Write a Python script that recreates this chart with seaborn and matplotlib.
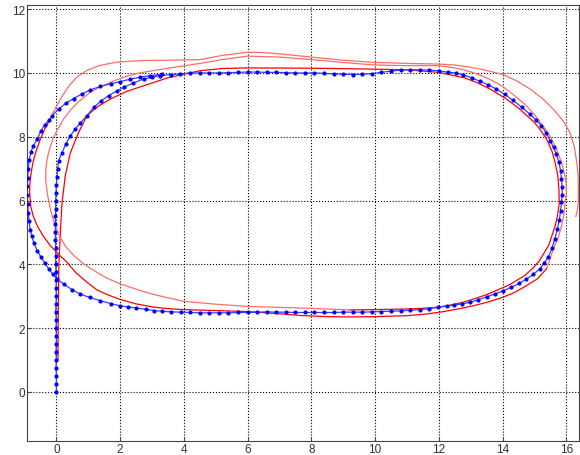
import matplotlib
matplotlib.use('Agg')
import matplotlib.pyplot as plt
import seaborn as sns

# reference path (blue dots)
path_x = [0.0, 0.0, 0.0, -0.01, 0.0, -0.01, 0.0, 0.0, -0.01, 0.0, -0.02, -0.01, 0.0, -0.01, 0.0, -0.01,
          -0.02, -0.02, -0.02, -0.03, -0.03, -0.03, -0.03, -0.02, -0.02, -0.01, 0.0, 0.02, 0.04,
          0.07, 0.18, 0.3, 0.44, 0.6, 0.75, 0.96, 1.17, 1.4, 1.64, 1.9, 2.11, 2.4, 2.74, 3.0, 3.26,
          3.6, 3.89, 4.2, 4.5,
          4.8, 5.1, 5.4, 5.7, 6.0, 6.3, 6.6, 6.9, 7.2, 7.5, 7.8, 8.1, 8.4, 8.7, 9.0, 9.3, 9.6, 9.9,
          10.2, 10.5, 10.8, 11.1, 11.4, 11.7, 12.0,
          12.3, 12.55, 12.77, 13.03, 13.29, 13.55, 13.8, 14.07, 14.33, 14.6, 14.86, 15.05, 15.22,
          15.37, 15.49, 15.6, 15.69, 15.77, 15.82, 15.85, 15.87, 15.87, 15.85, 15.82, 15.78, 15.72,
          15.64, 15.55, 15.43, 15.3, 15.17, 14.97, 14.75, 14.52, 14.28, 14.02, 13.76, 13.5, 13.24,
          12.98, 12.72, 12.48, 12.25, 11.97, 11.69, 11.41, 11.1, 10.8, 10.5, 10.2, 9.9,
          9.6, 9.3, 9.0, 8.7, 8.4, 8.1, 7.8, 7.5, 7.2, 6.9, 6.6, 6.3, 6.0, 5.7, 5.4, 5.1, 4.8, 4.5,
          4.2, 3.9, 3.6, 3.3, 3.05, 2.8, 2.5, 2.25, 2.0, 1.7, 1.38, 1.05, 0.75, 0.5, 0.25, 0.02,
          -0.12, -0.24, -0.36, -0.48, -0.6, -0.7, -0.77, -0.82, -0.86, -0.88, -0.9, -0.91, -0.91,
          -0.9, -0.88, -0.85, -0.8, -0.72, -0.6, -0.48, -0.36, -0.24, -0.13, 0.07, 0.3, 0.54, 0.8,
          1.07, 1.38, 1.7, 2.0, 2.3, 2.63, 2.95, 3.3]
path_y = [0.0, 0.25, 0.5, 0.75, 1.0, 1.25, 1.5, 1.75, 2.0, 2.25, 2.5, 2.75, 3.0, 3.25, 3.5, 3.75,
          4.0, 4.25, 4.5, 4.75, 5.0, 5.25, 5.5, 5.75, 6.0, 6.25, 6.5, 6.75, 7.0,
          7.25, 7.5, 7.78, 8.03, 8.25, 8.43, 8.66, 8.92, 9.12, 9.29, 9.44, 9.55, 9.68, 9.81, 9.87, 9.92,
          9.95, 9.97, 10.0, 10.0,
          10.0, 10.0, 10.01, 10.02, 10.03, 10.03, 10.02, 10.02, 10.01, 10.0, 10.0, 10.0, 9.99, 9.97,
          9.96, 9.95, 9.96, 9.98, 10.02, 10.06, 10.09, 10.1, 10.1, 10.09, 10.07,
          10.02, 10.0, 9.94, 9.85, 9.74, 9.63, 9.5, 9.33, 9.14, 8.93, 8.71, 8.53, 8.35,
          8.12, 7.88, 7.67, 7.46, 7.2, 6.94, 6.68, 6.42, 6.18, 5.95, 5.66, 5.38, 5.1,
          4.8, 4.5, 4.22, 4.03, 3.86, 3.69, 3.54, 3.4, 3.28, 3.17, 3.07, 2.98, 2.89,
          2.81, 2.76, 2.72, 2.69, 2.65, 2.61, 2.58, 2.56, 2.54, 2.53, 2.52, 2.51,
          2.5, 2.5, 2.5, 2.49, 2.49, 2.49, 2.49, 2.49, 2.5, 2.5, 2.51, 2.5, 2.49, 2.49, 2.48, 2.48, 2.48, 2.48,
          2.49, 2.5, 2.51, 2.53, 2.55, 2.59, 2.63, 2.66, 2.7, 2.77, 2.86, 2.96, 3.07, 3.2, 3.37, 3.54,
          3.7, 3.86, 4.03, 4.22, 4.43, 4.66, 4.88, 5.09, 5.35, 5.62, 5.9, 6.18, 6.45,
          6.72, 7.0, 7.28, 7.52, 7.72, 7.93, 8.19, 8.38, 8.52, 8.66, 8.87, 9.05, 9.2, 9.34,
          9.47, 9.58, 9.66, 9.73, 9.8, 9.87, 9.92, 9.96]

# estimated trajectory (red), split into passes
est1_x = [0.05, 0.06, 0.08, 0.13, 0.18, 0.28, 0.44, 0.7, 0.96, 1.3, 1.69, 2.2, 2.74, 3.5, 4.5, 5.2,
          6.0, 8.0, 10.0, 11.0, 12.0, 12.8, 13.2, 13.6, 14.1, 14.5, 15.0, 15.2, 15.38, 15.55, 15.65,
          15.73, 15.77, 15.78, 15.72, 15.65, 15.55, 15.45, 15.3, 15.15, 14.95, 14.7, 14.45, 14.2,
          13.85, 13.5, 13.15, 12.8, 12.4, 12.0, 11.5, 11.0, 10.0, 9.2]
est1_y = [1.0, 2.5, 4.0, 5.1, 5.94, 6.78, 7.5, 8.14, 8.66, 8.95, 9.18, 9.42, 9.6, 9.85, 10.07, 10.14,
          10.16, 10.15, 10.12, 10.1, 10.02, 9.85, 9.7, 9.5, 9.2, 8.9, 8.45, 8.2, 7.93, 7.55, 7.2,
          6.8, 6.36, 5.9, 5.5, 5.2, 4.9, 4.6, 4.35, 4.1, 3.88, 3.65, 3.5, 3.35,
          3.2, 3.05, 2.93, 2.82, 2.73, 2.66, 2.62, 2.6, 2.58, 2.57]
est2_x = [9.2, 8.0, 7.0, 6.0, 5.0, 4.0, 3.5, 3.0, 2.5, 2.0, 1.6, 1.27, 0.9, 0.55, 0.3, 0.1, -0.05,
          -0.18, -0.28, -0.33, -0.33, -0.3, -0.22, -0.1, 0.05, 0.23, 0.45, 0.7, 1.07, 1.45, 1.8,
          2.2, 2.6, 3.5, 4.5, 5.2, 6.0, 7.0, 8.0, 9.0, 10.0, 11.0, 12.0, 12.5, 12.8, 13.2, 13.6,
          14.0, 14.3, 14.7, 15.0, 15.3, 15.5, 15.7, 15.85, 15.95, 16.0, 16.0, 15.97, 15.93, 15.85,
          15.75, 15.6, 15.5, 15.38]
est2_y = [2.57, 2.62, 2.65, 2.68, 2.75, 2.84, 2.95, 3.07, 3.22, 3.39, 3.56, 3.75, 3.98, 4.27, 4.55,
          4.88, 5.25, 5.7, 6.2, 6.6, 6.95, 7.25, 7.6, 7.95, 8.25, 8.56, 8.85, 9.1, 9.4, 9.6, 9.75,
          9.9, 10.0, 10.15, 10.3, 10.42, 10.53, 10.5, 10.42, 10.33, 10.25, 10.23, 10.23, 10.16, 10.1,
          9.97, 9.8, 9.58, 9.35, 9.02, 8.7, 8.3, 8.0, 7.6, 7.2, 6.8, 6.5, 6.2, 6.0, 5.6, 5.2,
          4.85, 4.5, 4.2, 3.86]
est3_x = [15.38, 15.1, 14.7, 14.4, 14.02, 13.55, 13.08, 12.55, 12.04, 11.5, 11.0, 10.0, 9.2, 8.5,
          7.75, 7.0, 6.0, 5.0, 4.0, 3.5, 3.05, 2.5, 2.0, 1.6, 1.27, 0.96, 0.6, 0.33, 0.05, -0.19,
          -0.42, -0.6, -0.72, -0.8, -0.84, -0.83, -0.8, -0.76, -0.71, -0.62, -0.5, -0.36, -0.19]
est3_y = [3.86, 3.55, 3.3, 3.13, 2.97, 2.82, 2.7, 2.59, 2.5, 2.43, 2.39, 2.36, 2.35, 2.36,
          2.39, 2.45, 2.52, 2.55, 2.58, 2.61, 2.66, 2.76, 2.9, 3.05, 3.2, 3.44, 3.75, 4.07, 4.33, 4.59,
          4.9, 5.21, 5.5, 5.8, 6.26, 6.55, 6.8, 7.05, 7.3, 7.6, 7.93, 8.25, 8.56]
est4_x = [-0.19, -0.02, 0.2, 0.4, 0.65, 1.0, 1.38, 1.9, 2.63, 3.5, 4.5, 5.2, 6.0, 6.5, 7.0, 8.0,
          9.0, 10.0, 11.0, 12.0, 12.5, 13.0, 13.5, 14.02, 14.45, 14.86, 15.25, 15.59, 15.9, 16.11,
          16.25, 16.33, 16.37, 16.38, 16.38, 16.35, 16.3]
est4_y = [8.56, 8.92, 9.3, 9.6, 9.88, 10.1, 10.24, 10.34, 10.39, 10.4, 10.42, 10.55, 10.65, 10.64,
          10.6, 10.5, 10.4, 10.33, 10.3, 10.28, 10.25, 10.18, 10.08, 9.95, 9.75, 9.5, 9.2, 8.87, 8.5,
          8.14, 7.7, 7.2, 6.8, 6.4, 6.0, 5.7, 5.5]

x_ticks = [0, 2, 4, 6, 8, 10, 12, 14, 16]
y_ticks = [0, 2, 4, 6, 8, 10, 12]

plt.rcParams['font.family'] = ['Liberation Sans', 'DejaVu Sans']

fig = plt.figure(figsize=(5.8, 4.56), dpi=100)
ax = fig.add_axes([0.0466, 0.0307, 0.9517, 0.956])

# red estimate passes
sns.lineplot(x=est1_x, y=est1_y, sort=False, estimator=None, color='#ff0000', lw=0.9, ax=ax)
sns.lineplot(x=est2_x, y=est2_y, sort=False, estimator=None, color='#ff6b6b', lw=0.9, ax=ax)
sns.lineplot(x=est3_x, y=est3_y, sort=False, estimator=None, color='#ff0000', lw=0.9, ax=ax)
sns.lineplot(x=est4_x, y=est4_y, sort=False, estimator=None, color='#ff6b6b', lw=0.9, ax=ax)

# blue reference path with dots
sns.lineplot(x=path_x, y=path_y, sort=False, estimator=None, color='#3b3bff', lw=0.9, ax=ax)
sns.scatterplot(x=path_x, y=path_y, color='#0000ff', s=9, linewidth=0, ax=ax, zorder=3)

ax.set_xlim(-0.92, 16.4)
ax.set_ylim(-1.54, 12.13)
ax.set_xticks(x_ticks)
ax.set_yticks(y_ticks)
ax.grid(True, color='black', linestyle=':', linewidth=0.8)
ax.tick_params(direction='in', length=3, labelsize=8.5, colors='#444444', labelcolor='#333333', pad=1.5)
for s in ax.spines.values():
    s.set_color('#444444')
    s.set_linewidth(0.8)

fig.savefig('out.png', dpi=100)
